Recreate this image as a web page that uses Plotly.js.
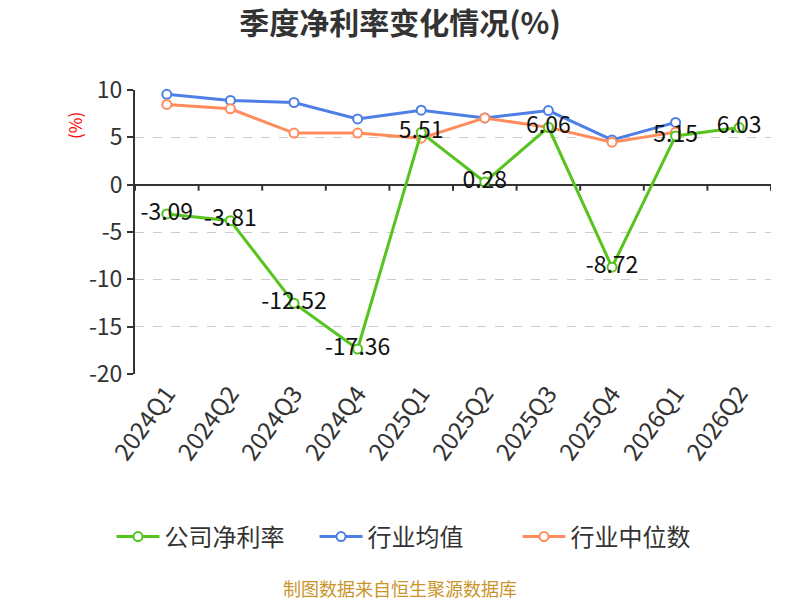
<!DOCTYPE html>
<html>
<head>
<meta charset="utf-8">
<script src="https://cdn.plot.ly/plotly-3.0.1.min.js"></script>
<style>
  html, body { margin: 0; padding: 0; background: #fff; }
  #chart { width: 800px; height: 600px; }
</style>
</head>
<body>
<div id="chart"></div>
<script>
// quarters on the x axis
const quarters = ['2024Q1', '2024Q2', '2024Q3', '2024Q4', '2025Q1',
                  '2025Q2', '2025Q3', '2025Q4', '2026Q1', '2026Q2'];

// 公司净利率 (labelled values)
const companyRate = [-3.09, -3.81, -12.52, -17.36, 5.51, 0.28, 6.06, -8.72, 5.15, 6.03];
// 行业均值
const industryMean = [9.54, 8.9, 8.68, 6.94, 7.87, 7.05, 7.83, 4.73, 6.58, null];
// 行业中位数
const industryMedian = [8.47, 8.01, 5.45, 5.45, 4.91, 7.05, 6.05, 4.49, 5.55, null];

const yTicks = [10, 5, 0, -5, -10, -15, -20];

const fontFamily = '"Noto Sans CJK SC", "Noto Sans", sans-serif';

function lineTrace(name, values, color, withText){
    let t = {
        x: quarters,
        y: values,
        name: name,
        type: 'scatter',
        mode: withText ? 'lines+markers+text' : 'lines+markers',
        line: {color: color, width: 3},
        marker: {symbol: 'circle', size: 9, color: '#fff',
                 line: {color: color, width: 2}},
        cliponaxis: false,
        hoverinfo: 'x+y'
    };
    if(withText){
        t.text = values.map((v)=>v.toFixed(2));
        t.textposition = 'middle center';
        t.textfont = {family: fontFamily, size: 23, color: '#111'};
    }
    return t;
}

// company line drawn last so it sits on top
const traces = [
    lineTrace('行业均值', industryMean, '#4d7fe6', false),
    lineTrace('行业中位数', industryMedian, '#ff8c5c', false),
    lineTrace('公司净利率', companyRate, '#55c41e', true)
];

// legend order as in the reference: company, mean, median
const legendRank = {'公司净利率': 1, '行业均值': 2, '行业中位数': 3};
traces.forEach((t)=>{ t.legendrank = legendRank[t.name]; });

// small tick marks on the zero line, at category boundaries
let shapes = [];
for(let i=0;i<=quarters.length;++i){
    shapes.push({
        type: 'line', xref: 'x', yref: 'y',
        ysizemode: 'pixel', yanchor: 0,
        x0: i - 0.5, x1: i - 0.5, y0: 0, y1: -6,
        line: {color: '#333', width: 2}
    });
}

const plotL = 135, plotR = 771, plotT = 90, plotB = 374;
const plotW = plotR - plotL, plotH = plotB - plotT;
const px = (x)=>(x - plotL) / plotW;
const py = (y)=>(plotB - y) / plotH;

const layout = {
    width: 800,
    height: 600,
    margin: {l: plotL, r: 800 - plotR, t: plotT, b: 600 - plotB},
    paper_bgcolor: '#fff',
    plot_bgcolor: '#fff',
    font: {family: fontFamily, color: '#333'},
    showlegend: true,
    title: {
        text: '<b>季度净利率变化情况(%)</b>',
        font: {family: fontFamily, size: 30, color: '#333'},
        x: 0.5, xanchor: 'center',
        y: 1 - 23/600, yanchor: 'middle'
    },
    xaxis: {
        type: 'category',
        range: [-0.5, quarters.length - 0.5],
        showline: false,
        showgrid: false,
        zeroline: false,
        ticks: '',
        tickangle: -54,
        tickfont: {family: fontFamily, size: 24, color: '#333'},
        automargin: false
    },
    yaxis: {
        range: [-20, 10],
        tickvals: yTicks,
        ticktext: yTicks.map(String),
        showline: true,
        linecolor: '#333',
        linewidth: 2,
        ticks: 'outside',
        ticklen: 6,
        tickwidth: 2,
        tickcolor: '#333',
        tickfont: {family: fontFamily, size: 23, color: '#333'},
        showgrid: true,
        gridcolor: '#cccccc',
        griddash: 'dash',
        gridwidth: 1,
        zeroline: true,
        zerolinecolor: '#333',
        zerolinewidth: 2,
        automargin: false
    },
    legend: {
        orientation: 'h',
        x: px(416), xanchor: 'center',
        y: py(537), yanchor: 'middle',
        yref: 'paper',
        itemwidth: 43,
        entrywidth: 145,
        traceorder: 'normal',
        font: {family: fontFamily, size: 24, color: '#333'}
    },
    annotations: [
        {
            text: '(%)', textangle: -90,
            xref: 'paper', yref: 'paper',
            x: px(74), y: py(126),
            xanchor: 'center', yanchor: 'middle',
            showarrow: false,
            font: {family: fontFamily, size: 17, color: '#ff0000'}
        },
        {
            text: '制图数据来自恒生聚源数据库',
            xref: 'paper', yref: 'paper',
            x: px(400), y: py(588),
            xanchor: 'center', yanchor: 'middle',
            showarrow: false,
            font: {family: fontFamily, size: 18, color: '#c9952b'}
        }
    ],
    shapes: shapes
};

Plotly.newPlot('chart', traces, layout, {staticPlot: true});
</script>
</body>
</html>
